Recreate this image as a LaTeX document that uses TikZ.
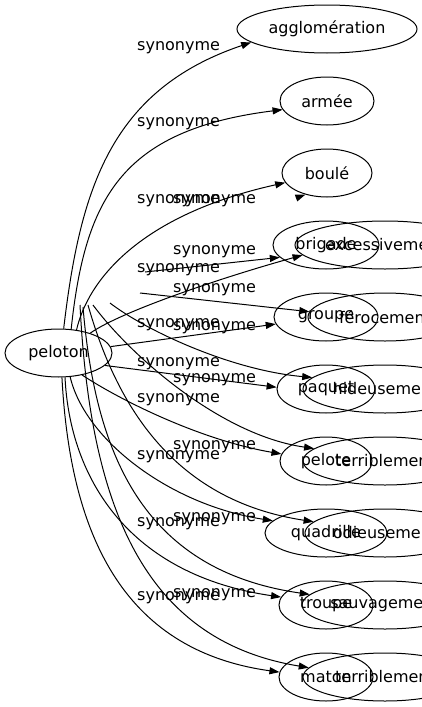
\documentclass[tikz,border=0pt]{standalone}
\usepackage{fontspec}
\setmainfont{DejaVu Sans}
\usetikzlibrary{shapes.geometric,arrows.meta}

\begin{document}
\begin{tikzpicture}[
  x=1pt, y=-1pt,
  every node/.style={font=\fontsize{16}{19}\selectfont, inner sep=0pt},
  word/.style={draw, ellipse, line width=1pt, minimum height=48pt},
  rel/.style={anchor=base west},
  edge/.style={draw, line width=1pt, -{Triangle[length=10pt,width=7pt]}}
]
\useasboundingbox (0,0) rectangle (422,707);
\clip (0,0) rectangle (422,707);

% centre
\node[word, minimum width=107pt] (peloton) at (58.5,353) {peloton};

% first column
\node[word, minimum width=180pt] (agglomeration) at (327,29) {agglomération};
\node[word, minimum width=94pt] (armee) at (327,101) {armée};
\node[word, minimum width=90pt] (boule) at (327,173) {boulé};
\node[word, minimum width=106pt] (brigade) at (326,245) {brigade};
\node[word, minimum width=104pt] (groupe) at (326,317) {groupe};
\node[word, minimum width=98pt] (paquet) at (326,389) {paquet};
\node[word, minimum width=92pt] (pelote) at (326,461) {pelote};
\node[word, minimum width=122pt] (quadrille) at (326,533) {quadrille};
\node[word, minimum width=94pt] (troupe) at (326,605) {troupe};
\node[word, minimum width=94pt] (maton) at (326,677) {maton};

% second column, cut by the right edge
\node[word, minimum width=180pt] (excessivement) at (385,245) {excessivement};
\node[word, minimum width=154pt] (ferocement) at (385,317) {férocement};
\node[word, minimum width=164pt] (hideusement) at (385,389) {hideusement};
\node[word, minimum width=164pt] (terriblementa) at (385,461) {terriblement};
\node[word, minimum width=160pt] (odieusement) at (385,533) {odieusement};
\node[word, minimum width=166pt] (sauvagement) at (385,605) {sauvagement};
\node[word, minimum width=164pt] (terriblementb) at (385,677) {terriblement};

% loose ends
\coordinate (s1) at (145,272);
\coordinate (s2) at (140,293);
\coordinate (s3) at (110,303);
\coordinate (s4) at (93,305);
\coordinate (s5) at (88,305);
\coordinate (s6) at (83,307);
\coordinate (s7) at (80,305);
\coordinate (s8) at (296,198);

% edges from peloton
\draw[edge] (peloton.78) .. controls (80,190) and (110,90) .. (agglomeration.190);
\draw[edge] (peloton.62) .. controls (85,200) and (120,130) .. (armee.191);
\draw[edge] (peloton.52) .. controls (88,280) and (140,215) .. (boule.193);
\draw[edge] (peloton.32) .. controls (120,312) and (220,278) .. (excessivement.187);
\draw[edge] (peloton.7) -- (groupe.188);
\draw[edge] (peloton.-15) -- (paquet.178);
\draw[edge] (peloton.-43) .. controls (120,400) and (200,440) .. (pelote.171);
\draw[edge] (peloton.-64) .. controls (85,440) and (170,505) .. (quadrille.167);
\draw[edge] (peloton.-75) .. controls (70,480) and (130,575) .. (troupe.170);
\draw[edge] (peloton.-82) .. controls (70,530) and (120,650) .. (maton.174);

% edges from the loose ends
\draw[edge] (s1) -- (brigade.195);
\draw[edge] (s2) -- (ferocement.176);
\draw[edge] (s3) .. controls (145,330) and (230,370) .. (hideusement.171);
\draw[edge] (s4) .. controls (130,355) and (220,435) .. (terriblementa.170);
\draw[edge] (s5) .. controls (115,400) and (170,500) .. (odieusement.171);
\draw[edge] (s6) .. controls (95,450) and (140,570) .. (sauvagement.172);
\draw[edge] (s7) .. controls (90,500) and (140,640) .. (terriblementb.173);
\draw[edge] (s8) -- (boule.225);

% edge labels
\node[rel] (la1) at (137,50) {synonyme};
\node[rel] (la2) at (137,126) {synonyme};
\node[rel] (la3) at (137,203) {synonyme};
\node[rel] (la4) at (137,272) {synonyme};
\node[rel] (la5) at (137,327) {synonyme};
\node[rel] (la6) at (137,366) {synonyme};
\node[rel] (la7) at (137,402) {synonyme};
\node[rel] (la8) at (137,459) {synonyme};
\node[rel] (la9) at (137,526) {synonyme};
\node[rel] (la10) at (137,600) {synonyme};
\node[rel] (lb1) at (173,203) {synonyme};
\node[rel] (lb2) at (173,254) {synonyme};
\node[rel] (lb3) at (173,292) {synonyme};
\node[rel] (lb4) at (173,330) {synonyme};
\node[rel] (lb5) at (173,382) {synonyme};
\node[rel] (lb6) at (173,449) {synonyme};
\node[rel] (lb7) at (173,521) {synonyme};
\node[rel] (lb8) at (173,597) {synonyme};
\end{tikzpicture}
\end{document}
